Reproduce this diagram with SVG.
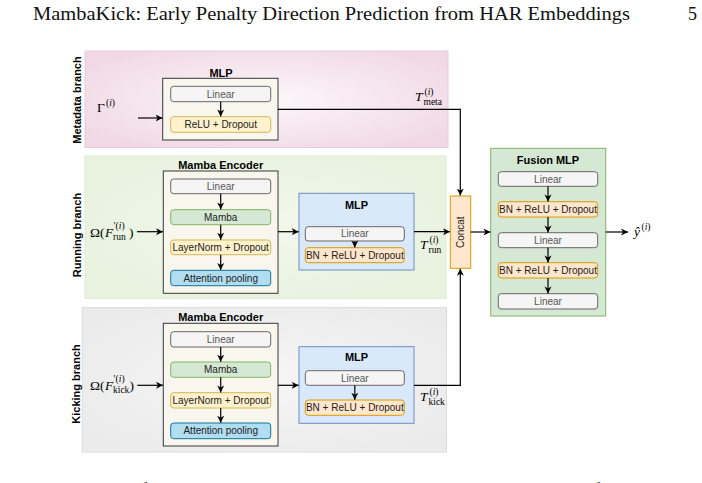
<svg xmlns="http://www.w3.org/2000/svg" width="702" height="483" viewBox="0 0 702 483">
<style>
.hdr{font-family:"Liberation Serif","Times New Roman",serif;font-size:18px;fill:#111}
.br{font-family:"Liberation Sans",Arial,sans-serif;font-size:11px;font-weight:bold;fill:#000;text-anchor:middle;dominant-baseline:central}
.ttl{font-family:"Liberation Sans",Arial,sans-serif;font-size:11px;font-weight:bold;fill:#000;text-anchor:middle;dominant-baseline:central}
.lb{font-family:"Liberation Sans",Arial,sans-serif;font-size:10px;fill:#222;text-anchor:middle;dominant-baseline:central}
.lg{fill:#555}
.m{font-family:"Liberation Serif","Times New Roman",serif;font-size:13.5px;fill:#000}
.s{font-size:9.5px}
.it{font-style:italic}
.cont{fill:#f9f7ed;stroke:#36393d;stroke-width:1}
.lin{fill:#f5f5f5;stroke:#666;stroke-width:1}
.mam{fill:#d5e8d4;stroke:#82b366;stroke-width:1}
.yel{fill:#fff2cc;stroke:#d6b656;stroke-width:1}
.att{fill:#b1ddf0;stroke:#10739e;stroke-width:1}
.blu{fill:#dae8fc;stroke:#6c8ebf;stroke-width:1}
.org{fill:#ffe6cc;stroke:#d79b00;stroke-width:1}
.fus{fill:#d5e8d4;stroke:#82b366;stroke-width:1}
.c{fill:none;stroke:#000;stroke-width:1.2;marker-end:url(#ah)}
</style>
<defs>
<marker id="ah" markerUnits="userSpaceOnUse" markerWidth="9" markerHeight="9" refX="7" refY="4" orient="auto">
<path d="M0,0.5 L7,4 L0,7.5 L2,4 Z" fill="#000"/>
</marker>
<radialGradient id="gMeta" cx="50%" cy="50%" r="60%">
<stop offset="0" stop-color="#fdf7fa"/><stop offset="1" stop-color="#f0d9e5"/>
</radialGradient>
<radialGradient id="gRun" cx="50%" cy="50%" r="60%">
<stop offset="0" stop-color="#f2f8ec"/><stop offset="1" stop-color="#e8f2de"/>
</radialGradient>
<radialGradient id="gKick" cx="50%" cy="50%" r="60%">
<stop offset="0" stop-color="#f6f6f6"/><stop offset="1" stop-color="#ebebeb"/>
</radialGradient>
</defs>
<rect width="702" height="483" fill="#fff"/>

<g id="header">
<text class="hdr" x="33" y="20" textLength="597" lengthAdjust="spacingAndGlyphs">MambaKick: Early Penalty Direction Prediction from HAR Embeddings</text>
<text class="hdr" x="688" y="20">5</text>
</g>

<g id="branches">
<rect x="85" y="51" width="363" height="96.5" fill="url(#gMeta)" stroke="#e8cbdb"/>
<rect x="85" y="156" width="361" height="142.3" fill="url(#gRun)" stroke="#dcebd0"/>
<rect x="82.3" y="307.5" width="364.2" height="144.5" fill="url(#gKick)" stroke="#dcdcdc"/>
<text class="br" transform="translate(76.5,100) rotate(-90)">Metadata branch</text>
<text class="br" transform="translate(76.5,235) rotate(-90)">Running branch</text>
<text class="br" transform="translate(76,384) rotate(-90)">Kicking branch</text>
</g>

<g id="meta-mlp">
<text class="ttl" x="221" y="73">MLP</text>
<rect class="cont" x="162.7" y="78.3" width="115.3" height="61.7"/>
<rect class="lin" x="170.7" y="86.3" width="100" height="15.4" rx="3"/>
<text class="lb lg" x="220.7" y="94">Linear</text>
<rect class="yel" x="170.7" y="116.7" width="100" height="15.6" rx="3"/>
<text class="lb" x="220.7" y="124.5">ReLU + Dropout</text>
</g>

<g id="run-encoder">
<text class="ttl" x="220.7" y="165">Mamba Encoder</text>
<rect class="cont" x="163.3" y="171" width="114.7" height="122.3"/>
<rect class="lin" x="170.7" y="179" width="100" height="14.7" rx="3"/>
<text class="lb lg" x="220.7" y="186.3">Linear</text>
<rect class="mam" x="170.7" y="209.7" width="100" height="15" rx="3"/>
<text class="lb" x="220.7" y="217.2">Mamba</text>
<rect class="yel" x="170.7" y="240" width="100" height="14.7" rx="3"/>
<text class="lb" x="220.7" y="247.3">LayerNorm + Dropout</text>
<rect class="att" x="170.7" y="270.3" width="100" height="15.4" rx="3"/>
<text class="lb" x="220.7" y="278">Attention pooling</text>
</g>

<g id="run-mlp">
<rect class="blu" x="299" y="193.3" width="115" height="76.7"/>
<text class="ttl" x="356.5" y="205.3">MLP</text>
<rect class="lin" x="305.3" y="226.7" width="99" height="14.3" rx="3"/>
<text class="lb lg" x="354.8" y="233.8">Linear</text>
<rect class="org" x="305.3" y="247.7" width="99" height="15" rx="3"/>
<text class="lb" x="354.8" y="255.2">BN + ReLU + Dropout</text>
</g>

<g id="kick-encoder">
<text class="ttl" x="220.7" y="317.3">Mamba Encoder</text>
<rect class="cont" x="163.3" y="323.3" width="114.7" height="122.7"/>
<rect class="lin" x="170.7" y="331.7" width="100" height="15.3" rx="3"/>
<text class="lb lg" x="220.7" y="339.3">Linear</text>
<rect class="mam" x="170.7" y="362" width="100" height="15.3" rx="3"/>
<text class="lb" x="220.7" y="369.6">Mamba</text>
<rect class="yel" x="170.7" y="392.7" width="100" height="15.3" rx="3"/>
<text class="lb" x="220.7" y="400.3">LayerNorm + Dropout</text>
<rect class="att" x="170.7" y="423" width="100" height="15.7" rx="3"/>
<text class="lb" x="220.7" y="430.8">Attention pooling</text>
</g>

<g id="kick-mlp">
<rect class="blu" x="299" y="346.7" width="115" height="76.6"/>
<text class="ttl" x="356.5" y="357.3">MLP</text>
<rect class="lin" x="305.3" y="370.7" width="99" height="14.6" rx="3"/>
<text class="lb lg" x="354.8" y="378">Linear</text>
<rect class="org" x="305.3" y="400" width="99" height="15.3" rx="3"/>
<text class="lb" x="354.8" y="407.6">BN + ReLU + Dropout</text>
</g>

<g id="concat">
<rect class="org" x="450.3" y="196" width="20.4" height="72.3"/>
<text class="lb" transform="translate(460.5,232.2) rotate(-90)">Concat</text>
</g>

<g id="fusion-mlp">
<rect class="fus" x="490.7" y="148.3" width="115" height="167.7"/>
<text class="ttl" x="548" y="159.7">Fusion MLP</text>
<rect class="lin" x="498.3" y="171.7" width="99.4" height="14.6" rx="3"/>
<text class="lb lg" x="548" y="179">Linear</text>
<rect class="org" x="498.3" y="201.7" width="99.4" height="15.3" rx="3"/>
<text class="lb" x="548" y="209.4">BN + ReLU + Dropout</text>
<rect class="lin" x="498.3" y="232.7" width="99.4" height="15" rx="3"/>
<text class="lb lg" x="548" y="240.2">Linear</text>
<rect class="org" x="498.3" y="262.7" width="99.4" height="15.3" rx="3"/>
<text class="lb" x="548" y="270.4">BN + ReLU + Dropout</text>
<rect class="lin" x="498.3" y="293.7" width="99.4" height="15.3" rx="3"/>
<text class="lb lg" x="548" y="301.4">Linear</text>
</g>

<g id="connectors">
<path class="c" d="M138,118 H162.5"/>
<path class="c" d="M220.7,101.7 V116.4"/>
<path class="c" d="M278,109.3 H460.3 V195.6"/>
<path class="c" d="M137,231.7 H163"/>
<path class="c" d="M220.7,193.7 V209.4"/>
<path class="c" d="M220.7,224.7 V239.7"/>
<path class="c" d="M220.7,254.7 V270"/>
<path class="c" d="M278,231.7 H298.7"/>
<path class="c" d="M354.8,241 V247.4"/>
<path class="c" d="M414,231.7 H450"/>
<path class="c" d="M470.7,232 H490.4"/>
<path class="c" d="M548,186.3 V201.4"/>
<path class="c" d="M548,217 V232.4"/>
<path class="c" d="M548,247.7 V262.4"/>
<path class="c" d="M548,278 V293.4"/>
<path class="c" d="M605.7,232 H628"/>
<path class="c" d="M137.3,385.3 H163"/>
<path class="c" d="M220.7,347 V361.7"/>
<path class="c" d="M220.7,377.3 V392.4"/>
<path class="c" d="M220.7,408 V422.7"/>
<path class="c" d="M278,385.3 H298.7"/>
<path class="c" d="M354.8,385.3 V399.7"/>
<path class="c" d="M414,385.3 H460.3 V268.7"/>
</g>

<g id="math-labels">
<text class="m" y="112"><tspan x="97">Γ</tspan><tspan x="106" y="106" class="s">(<tspan class="it">i</tspan>)</tspan></text>
<text class="m" y="100.5"><tspan x="415" class="it">T</tspan><tspan x="424.5" y="94.5" class="s">(<tspan class="it">i</tspan>)</tspan><tspan x="423.5" y="104.5" class="s">meta</tspan></text>
<text class="m" y="236.5"><tspan x="90">Ω(</tspan><tspan x="105" class="it">F</tspan><tspan x="113.5" y="229" class="s">′(<tspan class="it">i</tspan>)</tspan><tspan x="113" y="240" class="s">run</tspan><tspan x="129" y="236.5">)</tspan></text>
<text class="m" y="249"><tspan x="420" class="it">T</tspan><tspan x="429.5" y="243" class="s">(<tspan class="it">i</tspan>)</tspan><tspan x="428.5" y="253" class="s">run</tspan></text>
<text class="m" y="389.5"><tspan x="90">Ω(</tspan><tspan x="105" class="it">F</tspan><tspan x="113.5" y="382" class="s">′(<tspan class="it">i</tspan>)</tspan><tspan x="113" y="393" class="s">kick</tspan><tspan x="129.5" y="389.5">)</tspan></text>
<text class="m" y="400.5"><tspan x="420" class="it">T</tspan><tspan x="429.5" y="394.5" class="s">(<tspan class="it">i</tspan>)</tspan><tspan x="428.5" y="404.5" class="s">kick</tspan></text>
<text class="m" y="236"><tspan x="634" class="it">ŷ</tspan><tspan x="641.5" y="230" class="s">(<tspan class="it">i</tspan>)</tspan></text>
</g>

<g id="caption">
<text class="hdr" x="5" y="496" font-size="16">Fig. 2: Overview of the proposed MambaKick architecture. The modular design of the</text>
</g>
</svg>
